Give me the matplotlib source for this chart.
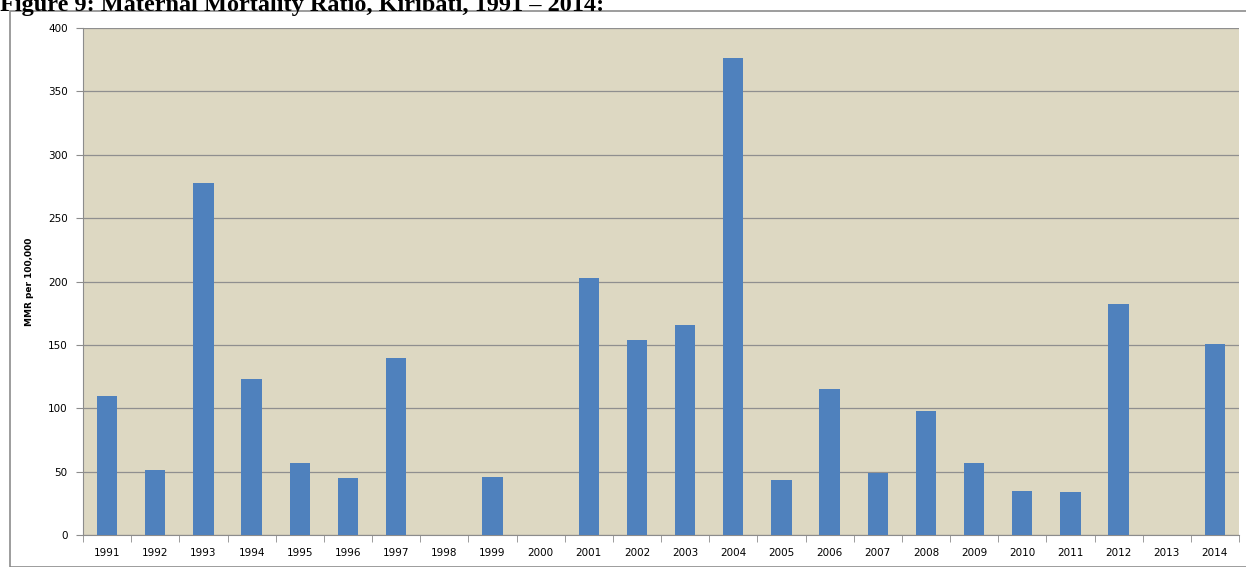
import matplotlib
matplotlib.use("Agg")
import matplotlib.pyplot as plt
from matplotlib.patches import Rectangle
import numpy as np

years = ['1991', '1992', '1993', '1994', '1995', '1996', '1997', '1998',
         '1999', '2000', '2001', '2002', '2003', '2004', '2005', '2006',
         '2007', '2008', '2009', '2010', '2011', '2012', '2013', '2014']
mmr = [110, 51, 278, 123, 57, 45, 140, 0, 46, 0, 203, 154, 166, 376,
       43, 115, 49, 98, 57, 35, 34, 182, 0, 151]
yticks = [0, 50, 100, 150, 200, 250, 300, 350, 400]

fig = plt.figure(figsize=(12.46, 5.67), dpi=100)

# outer chart frame
fig.patches.append(Rectangle((10 / 1246, 0.0), 1.0, 1 - 11 / 567,
                             transform=fig.transFigure, fill=False,
                             edgecolor='#8c8c8c', linewidth=1.2))

# title is partly cut off at the top, as in the source page
fig.text(0.0, 1 - 11 / 567, 'Figure 9: Maternal Mortality Ratio, Kiribati, 1991 \u2013 2014:',
         family='Liberation Serif', fontweight='bold', fontsize=17.5,
         ha='left', va='baseline')

ax = fig.add_axes([83 / 1246, 1 - 535 / 567, (1239 - 83) / 1246, (535 - 28) / 567])
ax.set_facecolor('#ddd8c2')

x = np.arange(len(years))
ax.bar(x, mmr, width=0.42, color='#4f81bd', zorder=3)

ax.set_xlim(-0.5, len(years) - 0.5)
ax.set_ylim(0, 400)
ax.set_yticks(yticks)
ax.yaxis.grid(True, color='#8f8f8f', linewidth=0.9, zorder=1)

ax.set_xticks(x)
ax.set_xticklabels(years, fontsize=7.5)
ax.set_xticks(np.arange(len(years) + 1) - 0.5, minor=True)
ax.tick_params(axis='x', which='major', length=0, pad=9)
ax.tick_params(axis='x', which='minor', length=5, color='#8c8c8c')
ax.tick_params(axis='y', length=5, color='#8c8c8c', labelsize=7.5, pad=6)

for side in ['top', 'right']:
    ax.spines[side].set_visible(False)
for side in ['left', 'bottom']:
    ax.spines[side].set_color('#8c8c8c')

ax.set_ylabel('MMR per 100,000', fontsize=6.5, fontweight='bold', labelpad=10)

fig.savefig('out.png', dpi=100)
